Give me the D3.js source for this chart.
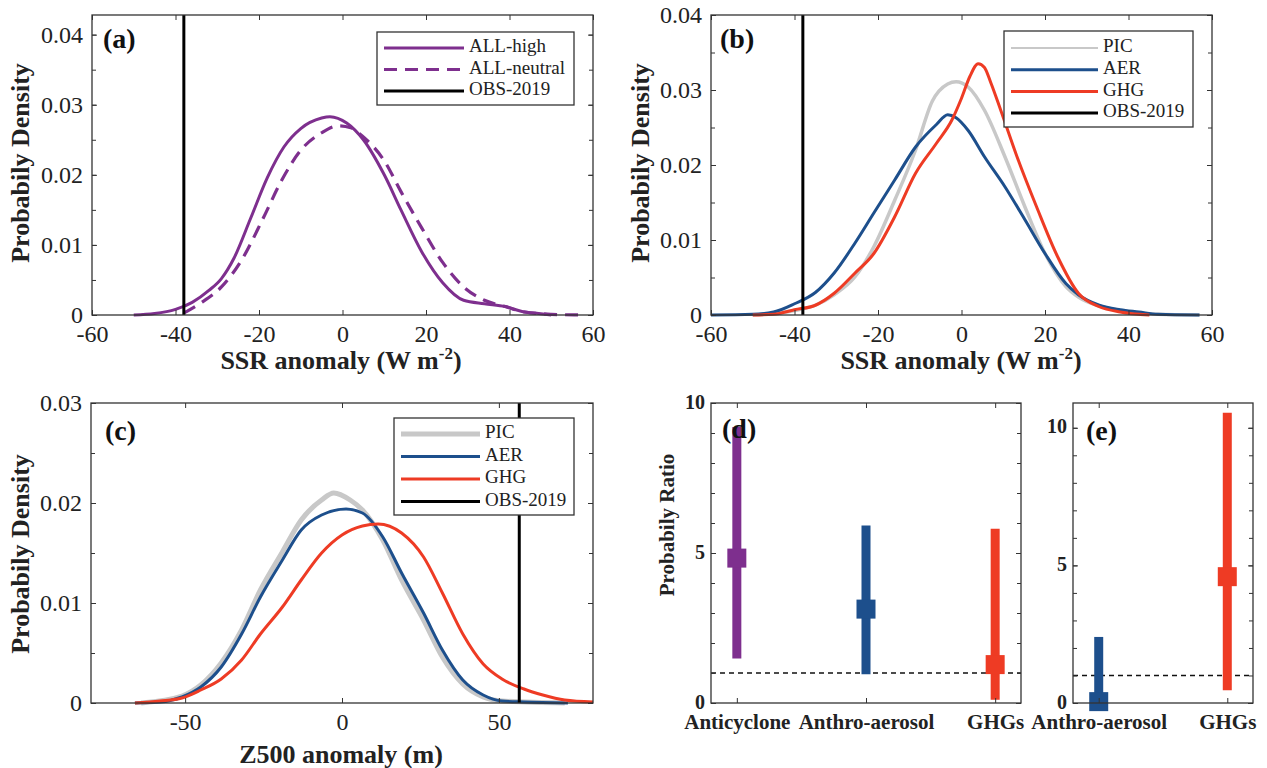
<!DOCTYPE html>
<html>
<head>
<meta charset="utf-8">
<title>SSR / Z500 anomaly distributions and probability ratios</title>
<script src="https://d3js.org/d3.v7.min.js"></script>
<style>
  body { margin: 0; background: #fff; }
  svg { display: block; }
  svg text { font-family: "Liberation Serif", "Times New Roman", Times, serif; }
</style>
</head>
<body>
<svg width="1267" height="768"></svg>
<script>
// ---------- data ----------
// (a) SSR anomaly pdfs, [anomaly, density]
const allHigh = [[-50,0],[-45,0.0002],[-40,0.0008],[-36,0.0018],[-32,0.0035],[-29,0.0052],[-26,0.0081],
  [-22,0.0138],[-18,0.0196],[-14,0.024],[-10,0.0266],[-5,0.0281],[-3,0.0283],[1,0.0274],[5,0.025],
  [10,0.02],[14,0.015],[19,0.009],[24,0.0046],[29,0.0021],[34,0.0016],[39,0.0012],[43,0.0005],[47,0.0002],[50,0]];
const allNeutral = [[-38,0.0003],[-34,0.0017],[-29,0.004],[-24,0.008],[-19,0.0138],[-14.5,0.0193],[-10,0.0235],
  [-5,0.026],[-1,0.027],[2,0.0267],[5,0.0254],[10,0.022],[14,0.0176],[19,0.0124],[24,0.0075],[29,0.004],
  [34,0.0021],[39,0.0012],[43,0.0005],[50,0.0001],[57,0]];
// (b) SSR anomaly pdfs
const ssrPIC = [[-50,0],[-40,0.0006],[-35,0.0013],[-30.5,0.0027],[-25.5,0.0051],[-21,0.0091],[-16,0.0153],
  [-11,0.022],[-7,0.0285],[-3.3,0.0308],[-1.3,0.0311],[1.6,0.0304],[5.5,0.0273],[10.4,0.0211],[15.2,0.0144],
  [20,0.0082],[25,0.0038],[28,0.0024],[33,0.0012],[38,0.0006],[47,0.0001],[57,0]];
const ssrAER = [[-60,0],[-50,0.0001],[-45,0.0004],[-40,0.0015],[-35,0.003],[-30.5,0.0056],[-25.5,0.0096],
  [-21,0.0136],[-16,0.018],[-11,0.0224],[-6,0.0254],[-3.3,0.0267],[-1.3,0.0263],[1.6,0.0246],[5.5,0.0211],
  [10.4,0.0171],[15.2,0.0127],[20,0.0082],[25,0.0042],[28,0.0027],[33,0.0013],[38,0.0007],[42.5,0.0004],[47,0.0001],[57,0]];
const ssrGHG = [[-50,0],[-45,0.0001],[-40,0.0007],[-35,0.0013],[-30.5,0.0029],[-25.5,0.0056],[-21,0.0082],
  [-16,0.0131],[-11,0.0189],[-6,0.0229],[-2.3,0.026],[0,0.0289],[2,0.0318],[4,0.0335],[5.5,0.033],[7,0.031],
  [9.4,0.0273],[13.3,0.0211],[18,0.0144],[23,0.0078],[28,0.0029],[33,0.0011],[38,0.0004],[45,0]];
// (c) Z500 anomaly pdfs
const zPIC = [[-64,0],[-51,0.0007],[-45,0.0018],[-38.5,0.004],[-32,0.0073],[-26,0.0113],[-19,0.0151],
  [-13,0.0183],[-6.5,0.0203],[-2.6,0.021],[2.6,0.0203],[6.5,0.0193],[13,0.0163],[19,0.0123],[26,0.0083],
  [32,0.0046],[38.5,0.0019],[45,0.0006],[51,0.0002],[71,0]];
const zAER = [[-66,0],[-58,0.0001],[-51,0.0006],[-45,0.0016],[-38.5,0.0036],[-32,0.0069],[-26,0.0106],
  [-19,0.0143],[-13,0.0173],[-6.5,0.0188],[1.3,0.0194],[6.5,0.019],[13,0.0166],[19,0.013],[26,0.009],
  [32,0.0053],[38.5,0.0023],[45,0.0008],[51,0.0002],[58,0.0001],[72,0]];
const zGHG = [[-66,0],[-58,0.0002],[-51,0.0005],[-45,0.0013],[-38.5,0.0024],[-32,0.0043],[-26,0.0069],
  [-19,0.0096],[-13,0.0123],[-6.5,0.015],[0,0.0168],[6.5,0.0177],[11.5,0.0179],[19,0.017],[26,0.0146],
  [32,0.011],[38.5,0.0069],[45,0.0039],[51,0.0024],[58,0.0014],[64,0.0008],[71,0.0003],[80,0.0001]];
const obsSSR = -38;
const obsZ500 = 56.5;

// (d) and (e) probability ratios
const catsD = ["Anticyclone", "Anthro-aerosol", "GHGs"];
const medD = [4.83, 3.13, 1.28];
const lowD = [1.48, 0.96, 0.11];
const highD = [9.2, 5.92, 5.81];
const catsE = ["Anthro-aerosol", "GHGs"];
const medE = [0.05, 4.59];
const lowE = [0, 0.46];
const highE = [2.4, 10.55];

const ssrTicks = [-60, -40, -20, 0, 20, 40, 60];
const zTicks = [-50, 0, 50];

// ---------- drawing ----------
const svg = d3.select("svg");
const serif = "'Liberation Serif', 'Times New Roman', Times, serif";
const purple = "#7E2F8E", blue = "#1D4F8C", red = "#EE3B24", grey = "#c8c8c8";
const catColor = {"Anticyclone": purple, "Anthro-aerosol": blue, "GHGs": red};

// box with inward ticks on all four sides
function frame(g, x, y, xt, yt, yMinor, fontSize, bold) {
  const [l, r] = x.range(), [b, t] = y.range();
  const fmt = d => d;
  const bottom = g.append("g").attr("transform", `translate(0,${b})`)
    .call(d3.axisBottom(x).tickValues(xt).tickSize(-5).tickSizeOuter(0).tickPadding(10).tickFormat(fmt));
  g.append("g").attr("transform", `translate(0,${t})`)
    .call(d3.axisTop(x).tickValues(xt).tickSize(-5).tickSizeOuter(0).tickFormat(""));
  const left = g.append("g").attr("transform", `translate(${l},0)`)
    .call(d3.axisLeft(y).tickValues(yt).tickSize(-5).tickSizeOuter(0).tickPadding(bold ? 6 : 9).tickFormat(fmt));
  g.append("g").attr("transform", `translate(${r},0)`)
    .call(d3.axisRight(y).tickValues(yt).tickSize(-5).tickSizeOuter(0).tickFormat(""));
  g.append("g").attr("transform", `translate(${l},0)`)
    .call(d3.axisLeft(y).tickValues(yMinor).tickSize(-4).tickSizeOuter(0).tickFormat(""));
  g.append("g").attr("transform", `translate(${r},0)`)
    .call(d3.axisRight(y).tickValues(yMinor).tickSize(-4).tickSizeOuter(0).tickFormat(""));
  g.selectAll(".domain").remove();
  g.selectAll("g").attr("font-family", serif);
  g.selectAll(".tick line").attr("stroke", "#333");
  g.selectAll(".tick text").attr("fill", "#222")
    .style("font-family", serif)
    .style("font-size", fontSize + "px")
    .style("font-weight", bold ? "bold" : "normal");
  g.append("rect").attr("x", l).attr("y", t).attr("width", r - l).attr("height", b - t)
    .attr("fill", "none").attr("stroke", "#333").attr("stroke-width", 1.3);
  return {bottom, left};
}

function yLabel(x, y, txt, size) {
  svg.append("text").attr("transform", `translate(${x},${y}) rotate(-90)`)
    .attr("text-anchor", "middle").attr("dominant-baseline", "middle")
    .style("font-family", serif).style("font-size", size + "px").style("font-weight", "bold")
    .attr("fill", "#222").text(txt);
}

function ssrLabel(cx, y) {
  const t = svg.append("text").attr("x", cx).attr("y", y).attr("text-anchor", "middle")
    .style("font-family", serif).style("font-size", "26px").style("font-weight", "bold").attr("fill", "#222");
  t.append("tspan").text("SSR anomaly (W m");
  t.append("tspan").attr("dy", -10).style("font-size", "17px").text("-2");
  t.append("tspan").attr("dy", 10).text(")");
}

function panelTag(x, y, txt) {
  svg.append("text").attr("x", x).attr("y", y).style("font-family", serif).style("font-size", "28px")
    .style("font-weight", "bold").attr("fill", "#111").text(txt);
}

function densityPanel(o) {
  const x = d3.scaleLinear().domain(o.xDomain).range([o.left, o.right]);
  const y = d3.scaleLinear().domain(o.yDomain).range([o.bottom, o.top]);
  const g = svg.append("g");
  const line = d3.line().x(d => x(d[0])).y(d => y(d[1])).curve(d3.curveMonotoneX);
  o.series.forEach(s => {
    g.append("path").datum(s.data).attr("d", line).attr("fill", "none")
      .attr("stroke", s.color).attr("stroke-width", s.width)
      .attr("stroke-dasharray", s.dash || null).attr("stroke-linejoin", "round");
  });
  g.append("line").attr("x1", x(o.obs)).attr("x2", x(o.obs))
    .attr("y1", o.bottom).attr("y2", o.top).attr("stroke", "#000").attr("stroke-width", 3);
  const minor = d3.range(0, o.yDomain[1] + 1e-9, o.yMinorStep);
  frame(g, x, y, o.xTicks, o.yTicks, minor, 24, false);

  // legend
  const L = o.legend;
  const lg = svg.append("g");
  lg.append("rect").attr("x", L.x).attr("y", L.y).attr("width", L.w).attr("height", L.h)
    .attr("fill", "#fff").attr("stroke", "#333").attr("stroke-width", 1.3);
  const items = o.series.concat([{name: "OBS-2019", color: "#000", width: 3}]);
  items.forEach((s, i) => {
    const yy = L.y + L.pad + i * L.row;
    lg.append("line").attr("x1", L.x + 7).attr("x2", L.x + L.lineW).attr("y1", yy).attr("y2", yy)
      .attr("stroke", s.color).attr("stroke-width", s.legendWidth || s.width)
      .attr("stroke-dasharray", s.dash || null);
    lg.append("text").attr("x", L.x + L.lineW + 5).attr("y", yy).attr("dominant-baseline", "middle")
      .style("font-family", serif).style("font-size", "19px").attr("fill", "#222").text(s.name);
  });
}

// (a)
densityPanel({
  left: 92, right: 593, top: 15, bottom: 315,
  xDomain: [-60, 60], yDomain: [0, 0.0428], xTicks: ssrTicks,
  yTicks: [0, 0.01, 0.02, 0.03, 0.04], yMinorStep: 0.005, obs: obsSSR,
  series: [
    {name: "ALL-high", data: allHigh, color: purple, width: 3},
    {name: "ALL-neutral", data: allNeutral, color: purple, width: 3.2, dash: "13,8"}
  ],
  legend: {x: 377, y: 32, w: 197, h: 73, pad: 16, row: 21.5, lineW: 87}
});
// (b)
densityPanel({
  left: 711, right: 1212, top: 15, bottom: 315,
  xDomain: [-60, 60], yDomain: [0, 0.04], xTicks: ssrTicks,
  yTicks: [0, 0.01, 0.02, 0.03, 0.04], yMinorStep: 0.005, obs: obsSSR,
  series: [
    {name: "PIC", data: ssrPIC, color: grey, width: 3.5, legendWidth: 2},
    {name: "AER", data: ssrAER, color: blue, width: 3},
    {name: "GHG", data: ssrGHG, color: red, width: 3}
  ],
  legend: {x: 1004, y: 31, w: 189, h: 96, pad: 17, row: 21.7, lineW: 94}
});
// (c)
densityPanel({
  left: 91, right: 593, top: 403, bottom: 703,
  xDomain: [-80, 80], yDomain: [0, 0.03], xTicks: zTicks,
  yTicks: [0, 0.01, 0.02, 0.03], yMinorStep: 0.005, obs: obsZ500,
  series: [
    {name: "PIC", data: zPIC, color: grey, width: 5},
    {name: "AER", data: zAER, color: blue, width: 3},
    {name: "GHG", data: zGHG, color: red, width: 3}
  ],
  legend: {x: 394, y: 418, w: 180, h: 97, pad: 16, row: 22.5, lineW: 86}
});

function ratioPanel(o) {
  const x = d3.scalePoint().domain(o.cats).range([o.left, o.right]).padding(0.2);
  const y = d3.scaleLinear().domain(o.yDomain).range([o.bottom, o.top]);
  const g = svg.append("g");
  g.append("line").attr("x1", o.left).attr("x2", o.right).attr("y1", y(1)).attr("y2", y(1))
    .attr("stroke", "#111").attr("stroke-width", 1.5).attr("stroke-dasharray", "5,4");
  o.cats.forEach((c, i) => {
    g.append("line").attr("x1", x(c)).attr("x2", x(c)).attr("y1", y(o.low[i])).attr("y2", y(o.high[i]))
      .attr("stroke", catColor[c]).attr("stroke-width", 9);
    g.append("rect").attr("x", x(c) - 9.5).attr("y", y(o.med[i]) - 9.5).attr("width", 19).attr("height", 19)
      .attr("fill", catColor[c]);
  });
  const minor = d3.range(0, o.yDomain[1], 1);
  const ax = frame(g, x, y, o.cats, [0, 5, 10], minor, 20, true);
  ax.bottom.selectAll(".tick text").style("font-size", "21px").attr("dy", "0.9em").attr("y", 7);
  ax.left.selectAll(".tick text").attr("dy", "0.25em");
}

ratioPanel({left: 711, right: 1021, top: 403, bottom: 703, yDomain: [0, 10],
  cats: catsD, med: medD, low: lowD, high: highD});
ratioPanel({left: 1073, right: 1253, top: 403, bottom: 703, yDomain: [0, 10.9],
  cats: catsE, med: medE, low: lowE, high: highE});

// axis titles and panel tags
yLabel(23, 163, "Probabily Density", 26);
yLabel(643, 163, "Probabily Density", 26);
yLabel(23, 554, "Probabily Density", 26);
yLabel(669, 525, "Probabily Ratio", 21);
ssrLabel(341, 369);
ssrLabel(961, 369);
svg.append("text").attr("x", 341).attr("y", 763).attr("text-anchor", "middle")
  .style("font-family", serif).style("font-size", "26px").style("font-weight", "bold")
  .attr("fill", "#222").text("Z500 anomaly (m)");
panelTag(103, 48, "(a)");
panelTag(720, 48, "(b)");
panelTag(105, 440, "(c)");
panelTag(722, 438, "(d)");
panelTag(1086, 440, "(e)");
</script>
</body>
</html>
